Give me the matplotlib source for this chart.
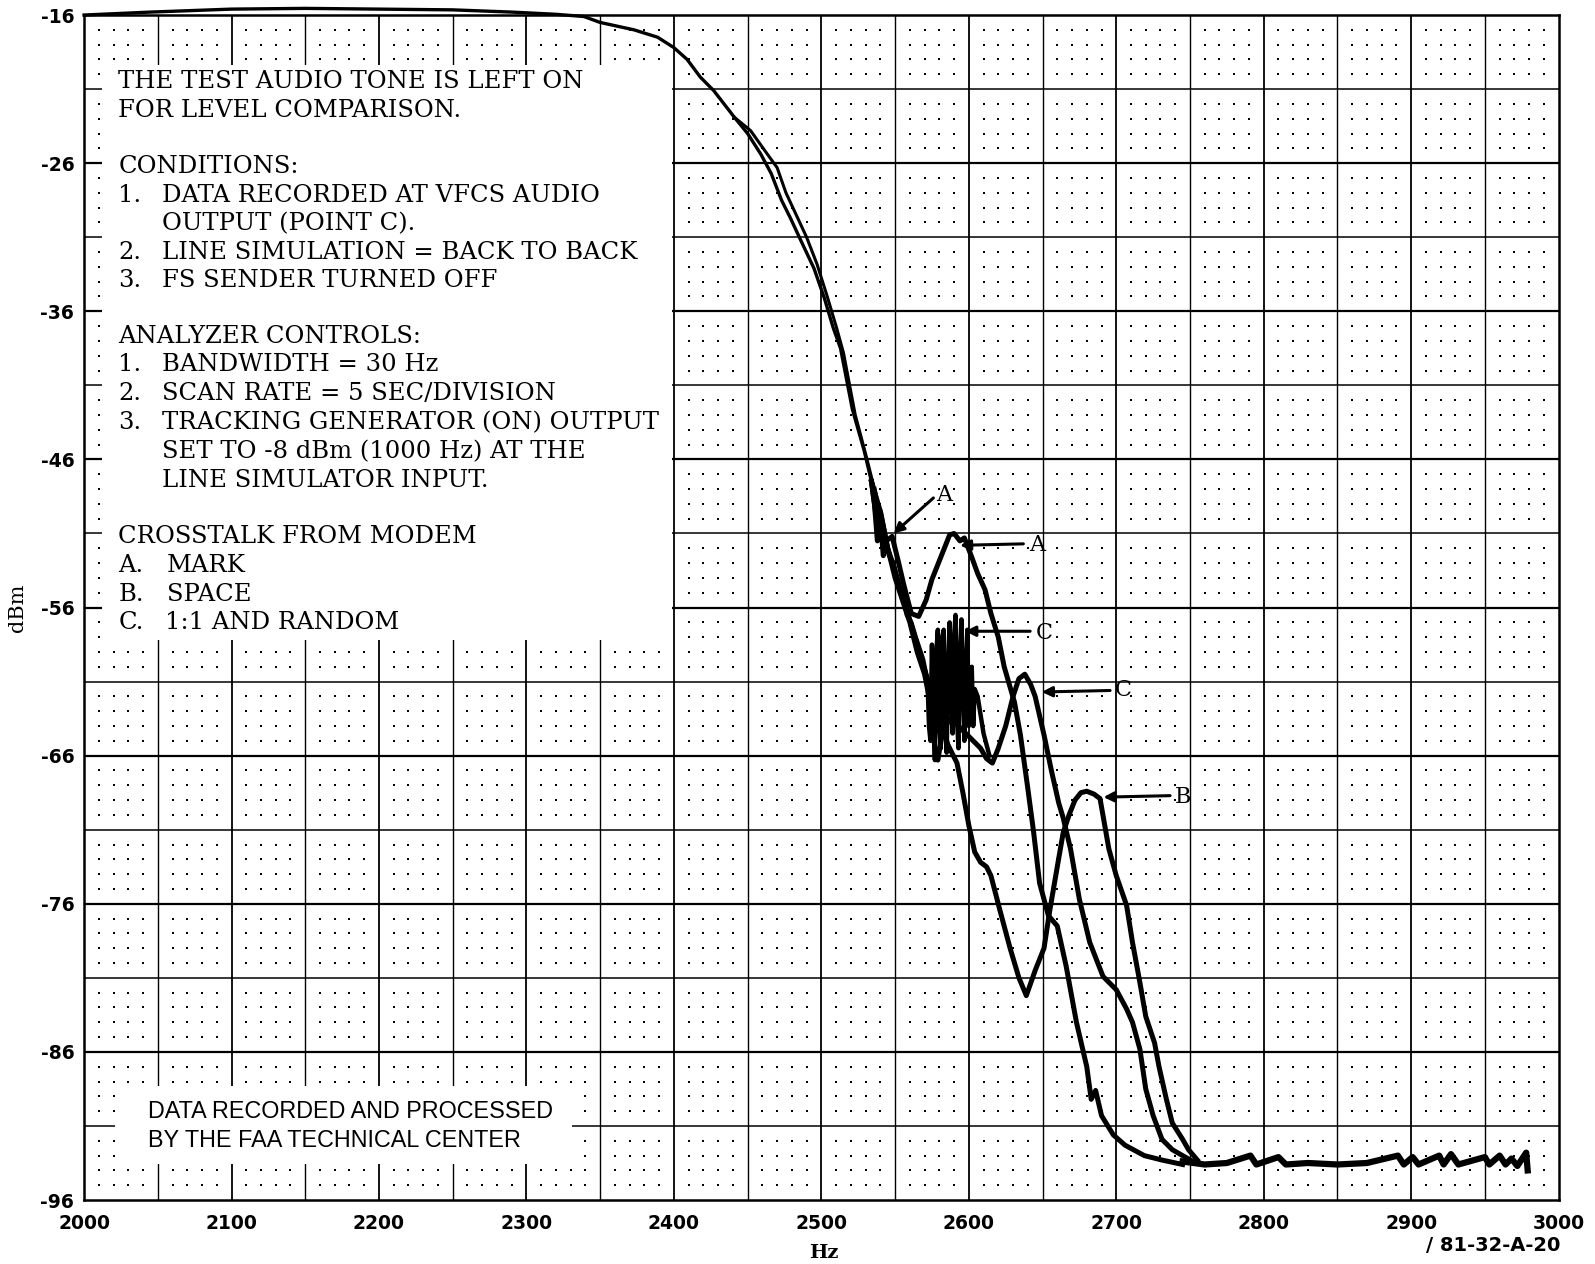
import numpy as np
import matplotlib.pyplot as plt
from matplotlib.patches import Rectangle

plt.rcParams['axes.unicode_minus'] = False

# shared part of the analyzer sweeps (Hz, dBm)
common_hz = [2000, 2045, 2100, 2150, 2200, 2250, 2290, 2320, 2339, 2350, 2373, 2389, 2400, 2409, 2418, 2427, 2441]
common_db = [-16.0, -15.8, -15.6, -15.55, -15.6, -15.65, -15.8, -15.95, -16.1, -16.5, -17.0, -17.5, -18.2, -19.0, -20.2, -21.1, -22.9]

# two slightly different rolloff passes
roll1_hz = [2450, 2459, 2466, 2473, 2479, 2486, 2495, 2502, 2508, 2513, 2521, 2529, 2534]
roll1_db = [-24.0, -25.4, -26.7, -28.5, -29.7, -31.2, -33.1, -35.1, -37.1, -38.5, -42.6, -45.4, -47.5]
roll2_hz = [2452, 2462, 2470, 2476, 2483, 2490, 2497, 2504, 2510, 2515, 2523, 2531, 2536]
roll2_db = [-23.8, -25.2, -26.3, -28.0, -29.5, -31.0, -32.8, -35.0, -37.0, -38.8, -43.0, -46.0, -48.0]

# A: mark
mark_hz = [2536, 2538, 2540, 2542, 2544, 2548, 2552, 2556, 2561, 2566, 2571, 2575, 2581, 2587, 2590, 2594, 2597, 2602, 2606,
           2611, 2615, 2620, 2624, 2631, 2635, 2640, 2644, 2648, 2654, 2660, 2666, 2673, 2680, 2683, 2686,
           2690, 2698, 2706, 2719, 2731, 2745]
mark_db = [-49.0, -51.5, -50.0, -52.5, -51.5, -51.2, -52.8, -54.5, -56.4, -56.6, -55.5, -54.1, -52.6, -51.1, -51.0, -51.5, -51.3, -52.6, -53.7,
           -54.8, -56.4, -58.0, -60.0, -62.4, -64.6, -68.2, -71.2, -74.6, -76.8, -77.5, -80.2, -84.0, -87.0, -89.2, -88.6,
           -90.3, -91.6, -92.3, -93.0, -93.3, -93.6]

# B: space
space_hz = [2538, 2540, 2545, 2550, 2556, 2562, 2568, 2574, 2580, 2586, 2592, 2596, 2600, 2604, 2608, 2612, 2615,
            2621, 2628, 2634, 2639, 2645, 2651, 2655, 2660, 2664, 2668, 2672, 2676, 2680, 2685, 2689, 2695,
            2700, 2707, 2711, 2716, 2720, 2726, 2729, 2734, 2738, 2745, 2749, 2755]
space_db = [-50.5, -49.5, -52.0, -53.5, -55.5, -57.5, -59.5, -61.5, -63.5, -65.3, -66.5, -68.5, -70.7, -72.5, -73.2, -73.5, -74.1,
            -76.4, -79.0, -81.0, -82.2, -80.5, -79.0, -76.4, -73.5, -71.2, -70.0, -69.0, -68.5, -68.4, -68.6, -68.9, -72.3,
            -74.1, -76.1, -78.6, -81.3, -83.6, -85.4, -87.0, -89.2, -90.8, -91.9, -92.6, -93.3]

# C: 1:1
c11_hz = [2540, 2545, 2550, 2555, 2560, 2565, 2570, 2574, 2577, 2579, 2582, 2587, 2593, 2598, 2603, 2608,
          2612, 2616, 2620, 2625, 2630, 2634, 2638, 2642, 2645, 2651, 2656, 2661, 2664, 2669, 2675, 2682,
          2691, 2700, 2707, 2711, 2716, 2720, 2725, 2731, 2738, 2745, 2752]
c11_db = [-49.5, -52.0, -54.0, -55.5, -57.0, -59.0, -60.5, -62.5, -65.5, -66.3, -64.5, -63.5, -64.0, -64.5, -65.0, -65.5,
          -66.2, -66.5, -65.5, -64.0, -62.0, -60.8, -60.5, -61.2, -62.0, -64.6, -67.0, -69.2, -70.2, -72.3, -75.7, -78.6,
          -80.9, -81.8, -83.1, -84.0, -85.8, -88.5, -90.3, -91.9, -92.6, -93.0, -93.4]

# C: random
rand_hz = [2540, 2543, 2546, 2549, 2552, 2555, 2558, 2561, 2564, 2569, 2572, 2573, 2574, 2575, 2576, 2577, 2578, 2579, 2580,
           2581, 2582, 2583, 2584, 2585, 2586, 2587, 2588, 2589, 2590, 2591, 2592, 2593, 2594, 2595, 2596,
           2597, 2598, 2599, 2600, 2601, 2602, 2603, 2604, 2606, 2610, 2614]
rand_db = [-50.0, -51.5, -52.5, -53.0, -54.5, -55.0, -56.5, -57.0, -58.0, -59.5, -61.0, -64.0, -65.0, -58.5, -63.5, -66.3, -59.0,
           -57.5, -64.0, -65.5, -58.0, -57.5, -63.0, -65.8, -60.0, -57.0, -62.0, -64.5, -58.0, -56.5, -63.5, -65.5, -59.0,
           -56.8, -61.5, -65.0, -60.0, -57.5, -64.0, -62.5, -60.0, -64.0, -61.5, -62.0, -64.5, -66.0]

# noise floor
floor_hz = [2745, 2760, 2775, 2791, 2795, 2810, 2815, 2830, 2850, 2870, 2891, 2895, 2901, 2905, 2919, 2922,
            2927, 2932, 2950, 2953, 2960, 2964, 2968, 2972, 2978, 2979]
floor_db = [-93.4, -93.6, -93.5, -93.0, -93.6, -93.1, -93.6, -93.5, -93.6, -93.5, -93.0, -93.6, -93.1, -93.6, -93.0, -93.6,
            -92.9, -93.6, -93.1, -93.6, -93.0, -93.6, -93.2, -93.7, -92.8, -94.0]

x_ticks = list(range(2000, 3001, 100))
y_ticks = list(range(-96, -15, 10))

fig = plt.figure(figsize=(15.95, 12.64), dpi=100)
ax = fig.add_axes([0.0527, 0.0506, 0.9245, 0.9375])
ax.set_xlim(2000, 3000)
ax.set_ylim(-96, -16)

# chart paper grid
for f in range(2050, 3000, 50):
    ax.axvline(f, color='k', lw=1.3 if f % 100 == 0 else 1.0, zorder=1)
for d in range(-91, -16, 5):
    ax.axhline(d, color='k', lw=1.6 if (d + 16) % 10 == 0 else 1.1, zorder=1)
gx, gy = np.meshgrid(np.arange(2010, 3000, 10), np.arange(-95, -16, 1))
keep = (gx % 50 != 0) & ((gy + 16) % 5 != 0)
ax.scatter(gx[keep], gy[keep], s=2.2, marker='s', color='k', linewidths=0, zorder=1)

# white boxes under the notes
ax.add_patch(Rectangle((2012, -58.2), 387, 38.8, facecolor='white', edgecolor='none', zorder=2))
ax.add_patch(Rectangle((2021, -93.6), 310, 5.3, facecolor='white', edgecolor='none', zorder=2))

# traces: thin pen on the rolloff, heavier where the crosstalk smears it
ax.plot(common_hz + roll1_hz, common_db + roll1_db, color='k', lw=2.4, zorder=5, clip_on=False)
ax.plot(common_hz[-1:] + roll2_hz, common_db[-1:] + roll2_db, color='k', lw=2.2, zorder=5)
tail = 3.6
ax.plot(roll1_hz[-1:] + mark_hz, roll1_db[-1:] + mark_db, color='k', lw=tail, zorder=5)
ax.plot(roll1_hz[-1:] + space_hz, roll1_db[-1:] + space_db, color='k', lw=tail, zorder=5)
ax.plot(roll1_hz[-1:] + c11_hz, roll1_db[-1:] + c11_db, color='k', lw=tail, zorder=5)
ax.plot(roll2_hz[-1:] + rand_hz, roll2_db[-1:] + rand_db, color='k', lw=3.2, zorder=5)
ax.plot(floor_hz, floor_db, color='k', lw=4.5, zorder=5)

# labels with arrows
arrows = [('A', (2576, -48.6), (2549, -51.0), (2583.6, -48.4)),
          ('A', (2637, -51.7), (2594, -51.8), (2646.6, -51.8)),
          ('C', (2641.6, -57.6), (2597.5, -57.6), (2651, -57.7)),
          ('C', (2695.8, -61.6), (2649.5, -61.7), (2705, -61.6)),
          ('B', (2736.5, -68.7), (2691.3, -68.8), (2745, -68.8))]
for lab, tl, hd, pos in arrows:
    ax.annotate('', xy=hd, xytext=tl, zorder=6,
                arrowprops=dict(arrowstyle='-|>', color='k', lw=2.2, mutation_scale=15, shrinkA=0, shrinkB=0))
    ax.text(pos[0], pos[1], lab, family='DejaVu Serif', fontsize=16, ha='center', va='center', zorder=6)

# notes
serif = dict(family='DejaVu Serif', fontsize=17.5, va='center', zorder=4)
x0, x1 = 2023.3, 2052.7
notes = [(x0, -20.5, 'THE TEST AUDIO TONE IS LEFT ON'),
         (x0, -22.42, 'FOR LEVEL COMPARISON.'),
         (x0, -26.25, 'CONDITIONS:'),
         (x0, -28.17, '1.'), (x1, -28.17, 'DATA RECORDED AT VFCS AUDIO'),
         (x1, -30.09, 'OUTPUT (POINT C).'),
         (x0, -32.0, '2.'), (x1, -32.0, 'LINE SIMULATION = BACK TO BACK'),
         (x0, -33.92, '3.'), (x1, -33.92, 'FS SENDER TURNED OFF'),
         (x0, -37.7, 'ANALYZER CONTROLS:'),
         (x0, -39.62, '1.'), (x1, -39.62, 'BANDWIDTH = 30 Hz'),
         (x0, -41.55, '2.'), (x1, -41.55, 'SCAN RATE = 5 SEC/DIVISION'),
         (x0, -43.5, '3.'), (x1, -43.5, 'TRACKING GENERATOR (ON) OUTPUT'),
         (x1, -45.5, 'SET TO -8 dBm (1000 Hz) AT THE'),
         (x1, -47.45, 'LINE SIMULATOR INPUT.'),
         (x0, -51.2, 'CROSSTALK FROM MODEM'),
         (x0, -53.15, 'A.'), (2056, -53.15, 'MARK'),
         (x0, -55.1, 'B.'), (2056, -55.1, 'SPACE'),
         (x0, -57.0, 'C.'), (2055, -57.0, '1:1 AND RANDOM')]
for x, y, s in notes:
    ax.text(x, y, s, **serif)

sans = dict(family='Liberation Sans', fontsize=16.8, va='center', zorder=4)
ax.text(2043.4, -90.05, 'DATA RECORDED AND PROCESSED', **sans)
ax.text(2043.4, -91.96, 'BY THE FAA TECHNICAL CENTER', **sans)

# axes, ticks
ax.set_xticks(x_ticks)
ax.set_yticks(y_ticks)
ax.set_xticklabels([str(v) for v in x_ticks], family='DejaVu Sans', fontsize=13.5, fontweight='bold')
ax.set_yticklabels([str(v) for v in y_ticks], family='DejaVu Sans', fontsize=13.5, fontweight='bold')
ax.tick_params(axis='x', length=0, pad=10)
ax.tick_params(axis='y', length=0, pad=7)
for sp in ax.spines.values():
    sp.set_linewidth(1.8)
    sp.set_zorder(7)

fig.text(0.011, 0.519, 'dBm', family='DejaVu Serif', fontsize=15, rotation=90, ha='center', va='center')
fig.text(0.5166, 0.0087, 'Hz', family='DejaVu Serif', fontsize=14, fontweight='bold', ha='center', va='center')
fig.text(0.978, 0.015, '/ 81-32-A-20', family='DejaVu Sans', fontsize=14, fontweight='bold', ha='right', va='center')

fig.savefig('out.png', dpi=100)
